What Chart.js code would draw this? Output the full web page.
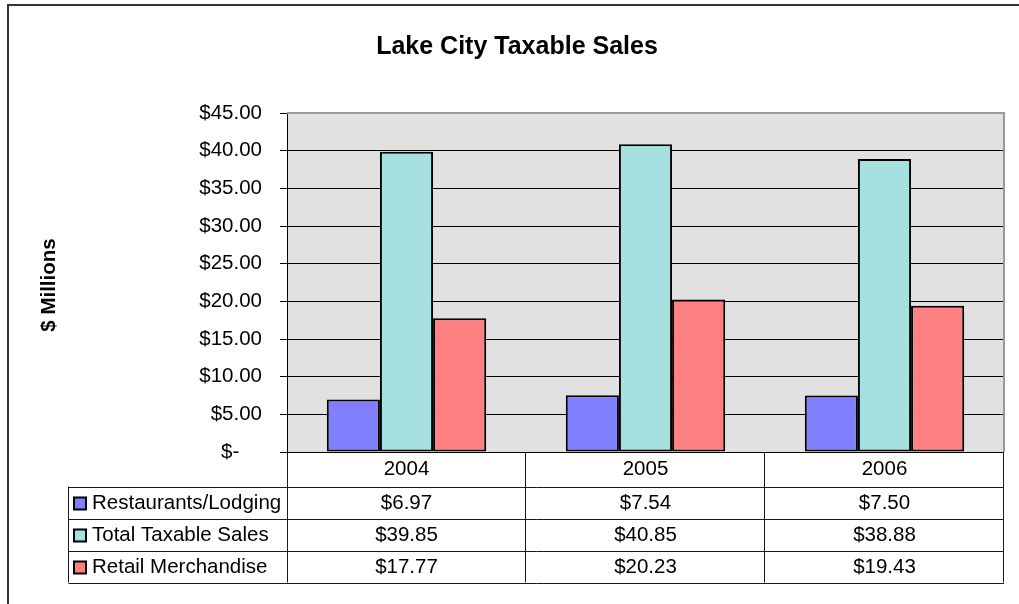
<!DOCTYPE html>
<html>
<head>
<meta charset="utf-8">
<title>Lake City Taxable Sales</title>
<script src="https://cdn.jsdelivr.net/npm/chart.js@4"></script>
<style>
  body { margin: 0; background: #fff; }
  canvas { display: block; }
</style>
</head>
<body>
<canvas id="mycanvas" width="1019" height="604"></canvas>
<script>
var years = ['2004', '2005', '2006'];
var seriesNames = ['Restaurants/Lodging', 'Total Taxable Sales', 'Retail Merchandise'];
var restaurants = [6.97, 7.54, 7.50];
var totalSales = [39.85, 40.85, 38.88];
var retail = [17.77, 20.23, 19.43];
var yTicks = [0, 5, 10, 15, 20, 25, 30, 35, 40, 45];

var colors = ['#8080FF', '#A6E0E0', '#FF8080'];
var font = 'Liberation Sans, Arial, sans-serif';

function money(v) {
    return '$' + v.toFixed(2);
}

// plot background, frame, title and the data table under the bars
var tablePlugin = {
    id: 'dataTable',
    beforeDraw: function(chart) {
        var a = chart.chartArea, ctx = chart.ctx;
        ctx.save();
        ctx.fillStyle = '#E1E1E1';
        ctx.fillRect(a.left, a.top, a.right - a.left, a.bottom - a.top);
        ctx.restore();
    },
    afterDraw: function(chart) {
        var a = chart.chartArea, ctx = chart.ctx, xs = chart.scales.x;
        var half = (xs.getPixelForValue(1) - xs.getPixelForValue(0)) / 2;
        var headBottom = a.bottom + 34.5;
        var rowH = 32;
        var legLeft = 68.5;
        var tableBottom = headBottom + rowH * 3;
        var series = chart.data.datasets;

        ctx.save();
        // plot frame top/right
        ctx.strokeStyle = '#9a9a9a';
        ctx.lineWidth = 2;
        ctx.beginPath();
        ctx.moveTo(a.left, a.top);
        ctx.lineTo(a.right, a.top);
        ctx.lineTo(a.right, a.bottom);
        ctx.stroke();

        // outer chart frame
        ctx.strokeStyle = '#333';
        ctx.lineWidth = 2;
        ctx.beginPath();
        ctx.moveTo(8, 604);
        ctx.lineTo(8, 5);
        ctx.lineTo(1019, 5);
        ctx.stroke();

        // table grid
        ctx.strokeStyle = '#1a1a1a';
        ctx.lineWidth = 1;
        ctx.beginPath();
        for (var r = 0; r <= 3; r++) {
            var yy = Math.round(headBottom + r * rowH) + 0.5;
            ctx.moveTo(legLeft, yy);
            ctx.lineTo(a.right, yy);
        }
        ctx.moveTo(legLeft, headBottom);
        ctx.lineTo(legLeft, tableBottom);
        ctx.moveTo(a.left + 0.5, a.bottom);
        ctx.lineTo(a.left + 0.5, tableBottom);
        for (var i = 0; i < years.length; i++) {
            var edge = Math.round(xs.getPixelForValue(i) + half) - 0.5;
            ctx.moveTo(edge, a.bottom);
            ctx.lineTo(edge, tableBottom);
        }
        ctx.stroke();

        // table text
        ctx.fillStyle = '#000';
        ctx.font = '20.5px ' + font;
        ctx.textAlign = 'center';
        ctx.textBaseline = 'middle';
        for (var i = 0; i < years.length; i++) {
            var cx = xs.getPixelForValue(i);
            ctx.fillText(years[i], cx, a.bottom + 17.5);
            for (var s = 0; s < series.length; s++) {
                ctx.fillText(money(series[s].data[i]), cx, headBottom + rowH * s + rowH / 2 + 1);
            }
        }
        ctx.textAlign = 'left';
        for (var s = 0; s < series.length; s++) {
            var cy = headBottom + rowH * s + rowH / 2 + 1;
            ctx.fillStyle = series[s].backgroundColor;
            ctx.fillRect(74, cy - 6, 12, 12);
            ctx.strokeStyle = '#000';
            ctx.lineWidth = 2;
            ctx.strokeRect(74, cy - 6, 12, 12);
            ctx.fillStyle = '#000';
            ctx.fillText(series[s].label, 92, cy);
        }

        // titles
        ctx.font = 'bold 25px ' + font;
        ctx.textAlign = 'center';
        ctx.fillText('Lake City Taxable Sales', 517, 47);
        ctx.translate(49, 285);
        ctx.rotate(-Math.PI / 2);
        ctx.font = 'bold 20.5px ' + font;
        ctx.fillText('$ Millions', 0, 0);
        ctx.restore();
    }
};

var chartdata = {
    labels: years,
    datasets: [
        { label: seriesNames[0], data: restaurants, backgroundColor: colors[0] },
        { label: seriesNames[1], data: totalSales, backgroundColor: colors[1] },
        { label: seriesNames[2], data: retail, backgroundColor: colors[2] }
    ]
};

chartdata.datasets.forEach(function(d) {
    d.borderColor = '#000';
    d.borderWidth = 2;
    d.borderSkipped = false;
    d.categoryPercentage = 0.667;
    d.barPercentage = 1.0;
});

var ctx = document.getElementById('mycanvas');

var barGraph = new Chart(ctx, {
    type: 'bar',
    data: chartdata,
    plugins: [tablePlugin],
    options: {
        responsive: false,
        animation: false,
        layout: { padding: { left: 0, top: 113, right: 15, bottom: 152 } },
        plugins: {
            legend: { display: false },
            title: { display: false },
            tooltip: { enabled: false }
        },
        scales: {
            x: { display: false },
            y: {
                min: 0,
                max: 45,
                afterFit: function(scale) { scale.width = 287; },
                afterBuildTicks: function(scale) {
                    scale.ticks = yTicks.map(function(v) { return { value: v }; });
                },
                grid: { color: '#000', lineWidth: 1, tickLength: 7 },
                border: { color: '#000', width: 1 },
                ticks: {
                    padding: 18,
                    color: '#000',
                    font: { family: font, size: 20.5 },
                    callback: function(v) {
                        return v === 0 ? '$-    ' : money(v);
                    }
                }
            }
        }
    }
});
</script>
</body>
</html>
